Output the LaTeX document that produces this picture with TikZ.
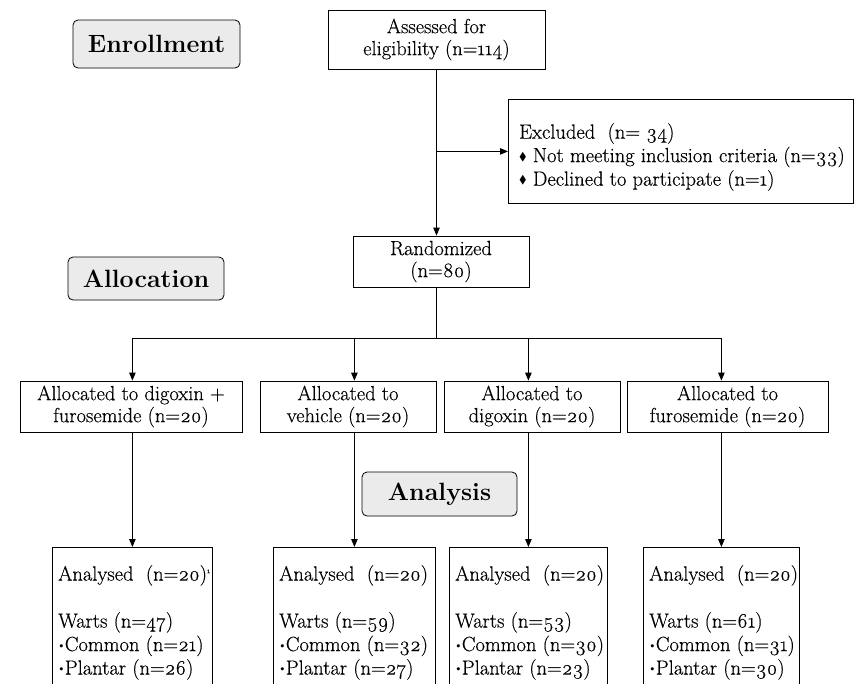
\documentclass[tikz,border=0pt]{standalone}
\usepackage{fontspec}
\setmainfont{Latin Modern Roman}[Numbers=OldStyle]
\usepackage{amssymb}
\usetikzlibrary{arrows.meta}
\newcommand{\dmd}{\raisebox{1.8pt}{\scalebox{0.55}{$\blacklozenge$}}}
\newcommand{\dotb}{{\boldmath$\cdot$}}
\newcommand{\bodyfont}{\fontsize{20.5}{22}\selectfont\addfontfeature{FakeBold=0.4}}
\begin{document}
\begin{tikzpicture}[x=1pt,y=-1pt,
  box/.style={draw, line width=0.8pt, inner sep=0pt, align=center, font=\bodyfont},
  phase/.style={draw, line width=0.8pt, rounded corners=5pt, fill=black!8, inner sep=0pt, font=\fontsize{25}{28}\selectfont\bfseries},
  frame/.style={draw, line width=0.8pt, inner sep=0pt, anchor=north west},
  btext/.style={anchor=north west, inner xsep=6pt, inner ysep=0pt, align=left, font=\fontsize{20.5}{23.5}\selectfont\addfontfeature{FakeBold=0.4}},
  arr/.style={line width=0.8pt, -{Triangle[width=6.5pt,length=8pt]}},
  ln/.style={line width=0.8pt}]
\useasboundingbox (0,0) rectangle (862,683);
\clip (0,0) rectangle (862,683);

% phase labels
\node[phase, minimum width=167pt, minimum height=48pt] (enr) at (156.5,44) {Enrollment};
\node[phase, minimum width=156pt, minimum height=43pt] (alc) at (146,278.5) {Allocation};
\node[phase, minimum width=155pt, minimum height=44pt] (ana) at (439.5,494) {Analysis};

% top boxes
\node[box, minimum width=217pt, minimum height=59pt] (ass) at (436.5,39.5) {Assessed for\\eligibility (n=114)};
\node[frame, minimum width=345pt, minimum height=104pt] (exc) at (508,99) {};
\node[btext, anchor=west, inner xsep=0pt, align=left] (exct) at (519,157)
  {Excluded~~(n=~34)\\ \dmd\ Not meeting inclusion criteria (n=33)\\ \dmd\ Declined to participate (n=1)};
\node[box, minimum width=176pt, minimum height=51pt] (ran) at (441,261.5) {Randomized\\(n=80)};

% allocation boxes
\node[box, minimum width=222pt, minimum height=51pt] (b1) at (131,406.5) {Allocated to digoxin +\\furosemide (n=20)};
\node[box, minimum width=176pt, minimum height=51pt] (b2) at (348,406.5) {Allocated to\\vehicle (n=20)};
\node[box, minimum width=176pt, minimum height=51pt] (b3) at (532,406.5) {Allocated to\\digoxin (n=20)};
\node[box, minimum width=201pt, minimum height=51pt] (b4) at (727.5,406.5) {Allocated to\\furosemide (n=20)};

% analysis boxes (extend below the picture)
\node[frame, minimum width=160pt, minimum height=180pt] (a1) at (52,547) {};
\node[frame, minimum width=162pt, minimum height=180pt] (a2) at (273,547) {};
\node[frame, minimum width=158pt, minimum height=180pt] (a3) at (449,547) {};
\node[frame, minimum width=156pt, minimum height=180pt] (a4) at (643,547) {};
\node[btext] (t1) at ([yshift=-18pt]a1.north west) {Analysed~~(n=20)\textsuperscript{\scriptsize 1}\\[23.5pt]Warts (n=47)\\\dotb Common (n=21)\\\dotb Plantar (n=26)};
\node[btext] (t2) at ([yshift=-18pt]a2.north west) {Analysed~~(n=20)\\[23.5pt]Warts (n=59)\\\dotb Common (n=32)\\\dotb Plantar (n=27)};
\node[btext] (t3) at ([yshift=-18pt]a3.north west) {Analysed~~(n=20)\\[23.5pt]Warts (n=53)\\\dotb Common (n=30)\\\dotb Plantar (n=23)};
\node[btext] (t4) at ([yshift=-18pt]a4.north west) {Analysed~~(n=20)\\[23.5pt]Warts (n=61)\\\dotb Common (n=31)\\\dotb Plantar (n=30)};

% connectors
\coordinate (tr) at (ass.south);
\draw[arr] (tr) -- (tr |- ran.north);
\draw[arr] (tr |- exc.west) -- (exc.west);
\coordinate (sp) at (tr |- 0,338);
\draw[ln] (tr |- ran.south) -- (sp);
\draw[ln] (a1.north |- sp) -- (a4.north |- sp);
\draw[arr] (a1.north |- sp) -- (a1.north |- b1.north);
\draw[arr] (a2.north |- sp) -- (a2.north |- b2.north);
\draw[arr] (a3.north |- sp) -- (a3.north |- b3.north);
\draw[arr] (a4.north |- sp) -- (a4.north |- b4.north);
\draw[arr] (a1.north |- b1.south) -- (a1.north);
\draw[arr] (a2.north |- b2.south) -- (a2.north);
\draw[arr] (a3.north |- b3.south) -- (a3.north);
\draw[arr] (a4.north |- b4.south) -- (a4.north);
\end{tikzpicture}
\end{document}
